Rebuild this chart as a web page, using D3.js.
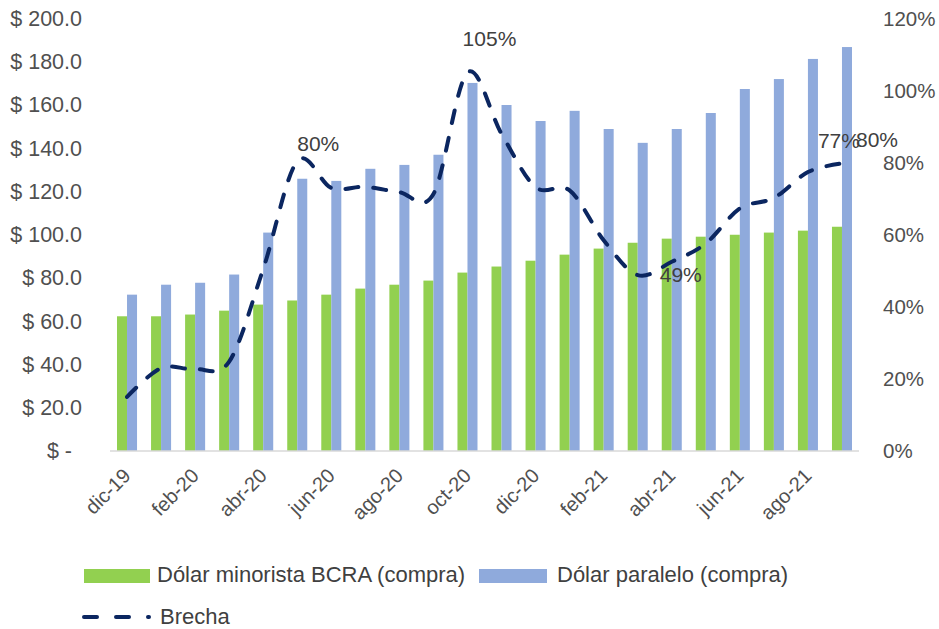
<!DOCTYPE html>
<html>
<head>
<meta charset="utf-8">
<script src="https://cdn.jsdelivr.net/npm/d3@7"></script>
<style>
  html, body { margin: 0; padding: 0; background: #ffffff; }
  svg { display: block; font-family: "Liberation Sans", Arial, sans-serif; }
</style>
</head>
<body>
<svg id="chart" width="939" height="629"></svg>
<script>
// ---- data ----
const months = ["dic-19","ene-20","feb-20","mar-20","abr-20","may-20","jun-20","jul-20","ago-20","sep-20","oct-20","nov-20","dic-20","ene-21","feb-21","mar-21","abr-21","may-21","jun-21","jul-21","ago-21","sep-21"];
const minorista = [62.3, 62.3, 63.1, 64.9, 67.7, 69.6, 72.3, 75.1, 76.9, 78.8, 82.5, 85.3, 88.0, 90.8, 93.6, 96.3, 98.2, 99.1, 100.0, 101.0, 101.9, 103.7];
const paralelo  = [72.3, 76.9, 77.8, 81.6, 101.0, 125.9, 124.9, 130.5, 132.3, 137.0, 170.2, 160.0, 152.6, 157.3, 148.9, 142.5, 148.9, 156.3, 167.4, 172.0, 181.3, 186.8];
const brecha    = [15.0, 23.0, 22.7, 24.8, 50.5, 80.4, 73.0, 73.3, 71.8, 71.3, 105.0, 88.0, 73.2, 72.3, 58.5, 48.8, 52.5, 57.6, 67.3, 70.2, 77.4, 79.8];
const leftTicks  = [0, 20, 40, 60, 80, 100, 120, 140, 160, 180, 200];
const rightTicks = [0, 20, 40, 60, 80, 100, 120];
const xTickLabels = ["dic-19","feb-20","abr-20","jun-20","ago-20","oct-20","dic-20","feb-21","abr-21","jun-21","ago-21"];
const seriesNames = ["Dólar minorista BCRA (compra)", "Dólar paralelo (compra)", "Brecha"];
const labeledPoints = ["may-20", "oct-20", "mar-21", "ago-21", "sep-21"];

// ---- layout / style ----
const green = "#92D050", blue = "#8FAADC", navy = "#0B2660";
const axisText = "#505050", labelText = "#404040";
const annot = {
  "may-20": {dx: 21, dy: -10, anchor: "middle"},
  "oct-20": {dx: 22, dy: -27, anchor: "middle"},
  "mar-21": {dx: 22, dy: 7,   anchor: "start"},
  "ago-21": {dx: 10, dy: -24, anchor: "start"},
  "sep-21": {dx: 14, dy: -16, anchor: "start"}
};

const svg = d3.select("#chart");
const x0 = 110, x1 = 859, yBase = 451, yTop = 18.5;

const x = d3.scaleBand().domain(months).range([x0, x1]).paddingInner(0).paddingOuter(0);
const xs = d3.scaleBand().domain(["m", "p"]).range([0, x.bandwidth()]).paddingInner(0).paddingOuter(0.7);
const y = d3.scaleLinear().domain([0, 200]).range([yBase, yTop]);
const y2 = d3.scaleLinear().domain([0, 120]).range([yBase, yTop]);

// bars
const g = svg.append("g");
g.selectAll("rect.m").data(months).join("rect").attr("class", "m")
  .attr("x", d => x(d) + xs("m")).attr("width", xs.bandwidth())
  .attr("y", (d, i) => y(minorista[i])).attr("height", (d, i) => yBase - y(minorista[i]))
  .attr("fill", green);
g.selectAll("rect.p").data(months).join("rect").attr("class", "p")
  .attr("x", d => x(d) + xs("p")).attr("width", xs.bandwidth())
  .attr("y", (d, i) => y(paralelo[i])).attr("height", (d, i) => yBase - y(paralelo[i]))
  .attr("fill", blue);

// baseline
svg.append("line").attr("x1", x0).attr("x2", x1).attr("y1", yBase).attr("y2", yBase)
  .attr("stroke", "#D9D9D9").attr("stroke-width", 1.5);

// left axis
const la = svg.append("g").attr("transform", "translate(82,0)")
  .call(d3.axisLeft(y).tickValues(leftTicks).tickSize(0).tickPadding(0)
    .tickFormat(d => d === 0 ? "$ -" : "$ " + d.toFixed(1)));
la.select(".domain").remove();
la.selectAll("text").attr("fill", axisText).style("font-size", "21.5px")
  .style("font-family", "'Liberation Sans', Arial, sans-serif")
  .attr("x", d => d === 0 ? -10 : 0);

// right axis
const ra = svg.append("g").attr("transform", "translate(883,0)")
  .call(d3.axisRight(y2).tickValues(rightTicks).tickSize(0).tickPadding(0).tickFormat(d => d + "%"));
ra.select(".domain").remove();
ra.selectAll("text").attr("fill", axisText).style("font-size", "20.5px")
  .style("font-family", "'Liberation Sans', Arial, sans-serif");

// bottom axis labels
const xa = svg.append("g").attr("transform", `translate(0,${yBase})`)
  .call(d3.axisBottom(x).tickValues(xTickLabels).tickSize(0).tickPadding(0));
xa.select(".domain").remove();
xa.selectAll("text").attr("fill", axisText).style("font-size", "20px")
  .style("font-family", "'Liberation Sans', Arial, sans-serif")
  .attr("y", 0).attr("dy", "0.35em").attr("text-anchor", "end")
  .attr("transform", "translate(0,21) rotate(-45)");

// brecha line
const cx = m => x(m) + x.bandwidth() / 2;
const line = d3.line().x(d => cx(d)).y((d, i) => y2(brecha[i])).curve(d3.curveCardinal.tension(0));
svg.append("path").datum(months).attr("d", line)
  .attr("fill", "none").attr("stroke", navy).attr("stroke-width", 4)
  .attr("stroke-dasharray", "13,15").attr("stroke-linecap", "round");

// data labels
svg.selectAll("text.dl").data(labeledPoints).join("text").attr("class", "dl")
  .attr("x", d => cx(d) + annot[d].dx)
  .attr("y", d => y2(brecha[months.indexOf(d)]) + annot[d].dy)
  .attr("text-anchor", d => annot[d].anchor)
  .attr("fill", labelText).style("font-size", "21px")
  .text(d => Math.round(brecha[months.indexOf(d)]) + "%");

// legend
const lg = svg.append("g").style("font-size", "22px").attr("fill", labelText);
lg.append("rect").attr("x", 84).attr("y", 569).attr("width", 66).attr("height", 14).attr("fill", green);
lg.append("text").attr("x", 157).attr("y", 582).text(seriesNames[0]);
lg.append("rect").attr("x", 479).attr("y", 569).attr("width", 68).attr("height", 14).attr("fill", blue);
lg.append("text").attr("x", 557).attr("y", 582).text(seriesNames[1]);
lg.append("line").attr("x1", 84).attr("x2", 149).attr("y1", 617).attr("y2", 617)
  .attr("stroke", navy).attr("stroke-width", 4).attr("stroke-dasharray", "13,19").attr("stroke-linecap", "round");
lg.append("text").attr("x", 160).attr("y", 624).text(seriesNames[2]);
</script>
</body>
</html>
